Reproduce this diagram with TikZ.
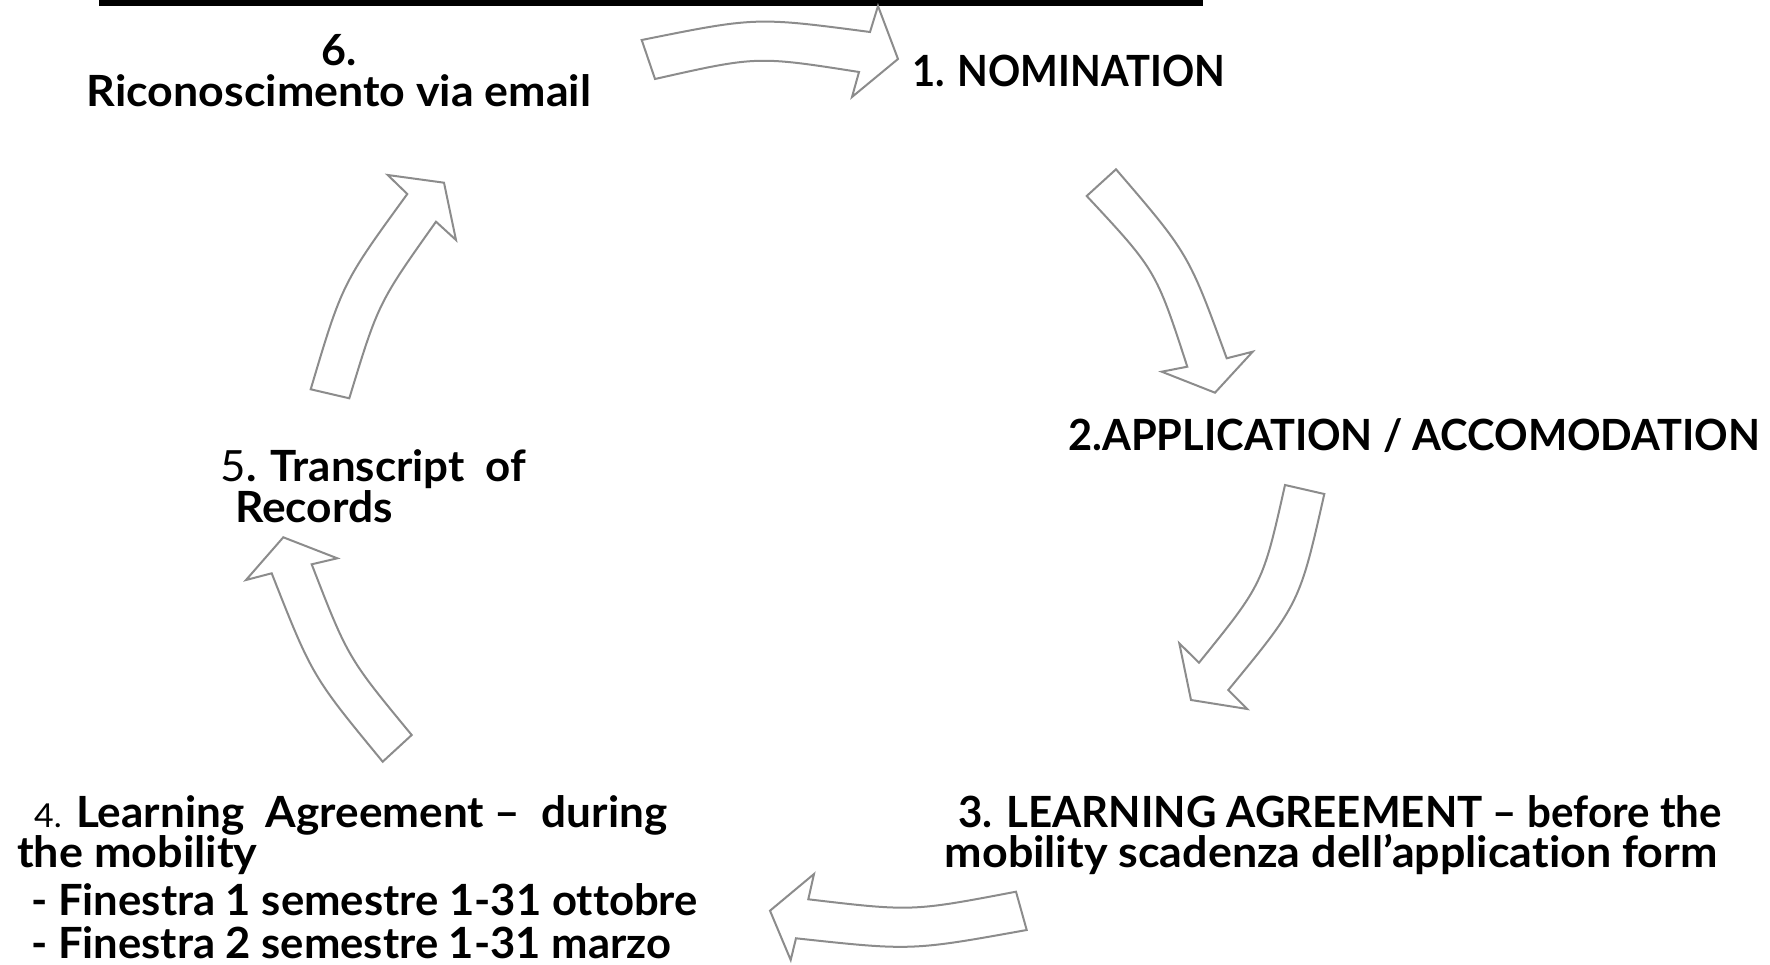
\documentclass[tikz,border=0pt]{standalone}
\usepackage{fontspec}
\usepackage{graphicx}
\setmainfont{Lato}[Ligatures=NoCommon]
\definecolor{arrowgray}{RGB}{140,140,140}
\tikzset{
  blockarrow/.style={draw=arrowgray, fill=white, line width=2pt, line join=miter},
  lbl/.style={inner sep=0pt, font=\fontsize{43}{43}\selectfont\bfseries},
}
\newcommand{\hs}[2]{\scalebox{#1}[1]{#2}}
\begin{document}
\begin{tikzpicture}[x=1pt,y=-1pt]
\useasboundingbox (0,0) rectangle (1770,965);
% top bar
\fill[black] (99,0) rectangle (1203,6);
% block arrows
\draw[blockarrow] (641.7,40) .. controls (756,17) .. (870,32) -- (878,6) -- (898,59) -- (852,97) -- (859,72) .. controls (757,56) .. (655,79) -- cycle;
\draw[blockarrow] (1086.7,196) .. controls (1155.9,270.2) .. (1187.3,366.7) -- (1161.7,371.7) -- (1215,392.7) -- (1252.7,351.7) -- (1226.7,358.3) .. controls (1188.6,253.7) .. (1116,169.3) -- cycle;
\draw[blockarrow] (1324.3,494) .. controls (1299.6,603.4) .. (1228.3,690) -- (1247.3,709) -- (1191,700) -- (1179.3,643.3) -- (1199,662.7) .. controls (1262.8,583.9) .. (1285,485) -- cycle;
\draw[blockarrow] (1016,891.7) .. controls (912,911.5) .. (808.3,899.3) -- (814,874) -- (770,910.7) -- (790.7,960) -- (796,938.3) .. controls (911.3,950.8) .. (1026.7,930) -- cycle;
\draw[blockarrow] (382.7,761.7) .. controls (312.3,676.3) .. (271.7,573.3) -- (246,580) -- (283.3,537.3) -- (337.3,558.3) -- (311.7,564.3) .. controls (347.9,657.7) .. (411.7,735) -- cycle;
\draw[blockarrow] (310.7,389.3) .. controls (342.2,283.4) .. (407.3,194) -- (387.7,175) -- (444,182.7) -- (456,240) -- (436,221.7) .. controls (378.3,303) .. (349.3,398.3) -- cycle;
% labels
\node[lbl, anchor=base] (six) at (339,66) {6.};
\node[lbl, anchor=base] (ric) at (339,107) {\hs{1.04}{Riconoscimento via email}};
\node[lbl, anchor=base west] (nom) at (912,87) {\hs{0.929}{1. NOMINATION}};
\node[lbl, anchor=base west] (app) at (1068,450) {\hs{0.967}{2.APPLICATION / ACCOMODATION}};
\node[lbl, anchor=base] (la3a) at (1340,827) {\hs{0.978}{3. LEARNING AGREEMENT – before the}};
\node[lbl, anchor=base] (la3b) at (1331,867) {\hs{1.042}{mobility scadenza dell’application form}};
\node[lbl, anchor=base west] (la4a) at (34,827) {\hs{1.025}{{\mdseries\fontsize{33}{33}\selectfont 4.} Learning\ \ Agreement –\ \ during}};
\node[lbl, anchor=base west] (la4b) at (17,867) {\hs{1.045}{the mobility}};
\node[lbl, anchor=base west] (fin1) at (31,915) {\hs{1.015}{- Finestra 1 semestre 1-31 ottobre}};
\node[lbl, anchor=base west] (fin2) at (31,958) {\hs{1.014}{- Finestra 2 semestre 1-31 marzo}};
\node[lbl, anchor=base west] (tor) at (220.5,481) {\hs{1.02}{{\mdseries 5}. Transcript\ \ of}};
\node[lbl, anchor=base west] (rec) at (235,522) {\hs{1.03}{Records}};
\end{tikzpicture}
\end{document}
